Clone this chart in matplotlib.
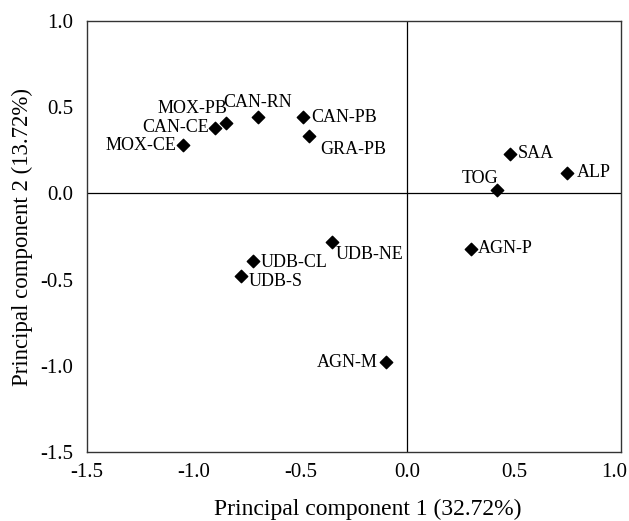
import matplotlib
matplotlib.use("Agg")
import matplotlib.pyplot as plt
from matplotlib.ticker import FormatStrFormatter
from matplotlib.transforms import ScaledTranslation

plt.rcParams["font.family"] = ["Liberation Serif", "DejaVu Serif"]
plt.rcParams["axes.unicode_minus"] = False

# PCA scores
names = ["MOX-CE", "CAN-CE", "MOX-PB", "CAN-RN", "CAN-PB", "GRA-PB",
         "SAA", "ALP", "TOG", "AGN-P", "UDB-NE", "UDB-CL", "UDB-S", "AGN-M"]
pc1 = [-1.05, -0.90, -0.85, -0.70, -0.49, -0.46,
       0.48, 0.75, 0.42, 0.30, -0.35, -0.72, -0.78, -0.10]
pc2 = [0.28, 0.38, 0.41, 0.44, 0.44, 0.33,
       0.23, 0.12, 0.02, -0.32, -0.28, -0.39, -0.48, -0.98]
ticks = [-1.5, -1.0, -0.5, 0.0, 0.5, 1.0]

# label offsets (points) and alignment
offsets = {
    "MOX-CE": ((-5, 0), "right", "center"),
    "CAN-CE": ((-4, 0), "right", "center"),
    "MOX-PB": ((1, 4), "right", "bottom"),
    "CAN-RN": ((0, 5), "center", "bottom"),
    "CAN-PB": ((6, 0), "left", "center"),
    "GRA-PB": ((8, -3), "left", "top"),
    "SAA": ((6, 0), "left", "center"),
    "ALP": ((7, 0), "left", "center"),
    "TOG": ((1, 2), "right", "bottom"),
    "AGN-P": ((5, 0), "left", "center"),
    "UDB-NE": ((2, -3), "left", "top"),
    "UDB-CL": ((5, -1), "left", "center"),
    "UDB-S": ((6, -4), "left", "center"),
    "AGN-M": ((-6, 0), "right", "center"),
}

fig = plt.figure(figsize=(6.29, 5.21), dpi=100)
ax = fig.add_axes([0.138, 0.132, 0.849, 0.828])

ax.axhline(0, color="black", lw=0.9, zorder=1)
ax.axvline(0, color="black", lw=0.9, zorder=1)
ax.scatter(pc1, pc2, marker="D", s=40, color="black", zorder=3)

for n, x, y in zip(names, pc1, pc2):
    (dx, dy), ha, va = offsets[n]
    ax.annotate(n, (x, y), xytext=(dx, dy), textcoords="offset points",
                ha=ha, va=va, fontsize=13)

ax.set_xlim(-1.5, 1.0)
ax.set_ylim(-1.5, 1.0)
ax.set_xticks(ticks)
ax.set_yticks(ticks)
ax.tick_params(length=0, labelsize=15, pad=8)
ax.tick_params(axis="y", pad=10)
ax.xaxis.set_major_formatter(FormatStrFormatter("%.1f"))
ax.yaxis.set_major_formatter(FormatStrFormatter("%.1f"))
for s in ax.spines.values():
    s.set_color("#333333")
    s.set_linewidth(1.0)

# keep the last x tick label inside the figure
last = ax.get_xticklabels()[-1]
last.set_transform(last.get_transform() + ScaledTranslation(-5 / 72, 0, fig.dpi_scale_trans))

ax.set_xlabel("Principal component 1 (32.72%)", fontsize=17, labelpad=12)
ax.xaxis.label.set_x(0.526)
ax.set_ylabel("Principal component 2 (13.72%)", fontsize=16.5, labelpad=5)

fig.savefig("out.png", dpi=100)
